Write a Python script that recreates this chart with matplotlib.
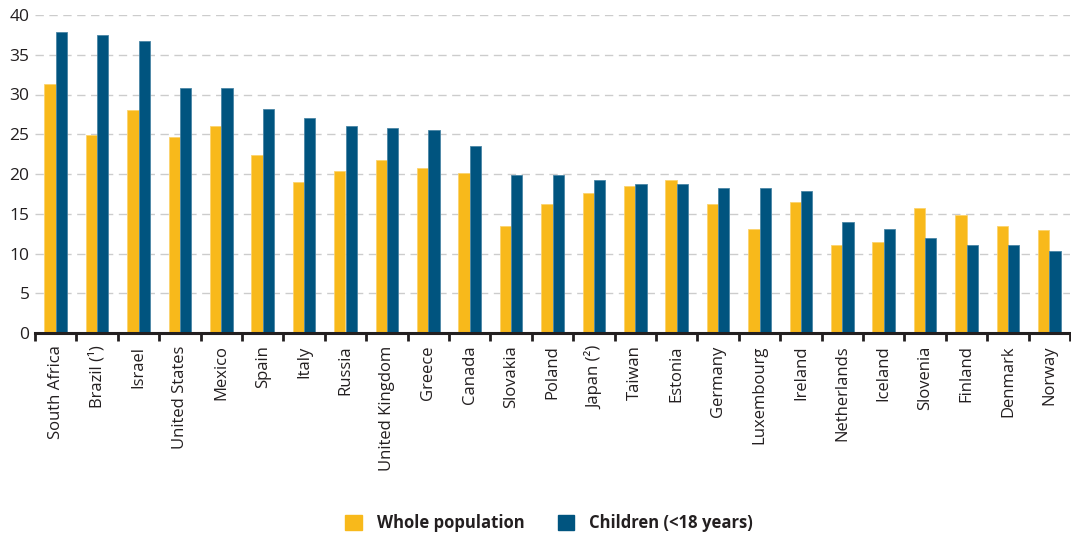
import matplotlib
matplotlib.use("Agg")
import matplotlib.pyplot as plt
import numpy as np
from matplotlib.patches import Patch

countries = ["South Africa", "Brazil (¹)", "Israel", "United States", "Mexico", "Spain",
             "Italy", "Russia", "United Kingdom", "Greece", "Canada", "Slovakia", "Poland",
             "Japan (²)", "Taiwan", "Estonia", "Germany", "Luxembourg", "Ireland",
             "Netherlands", "Iceland", "Slovenia", "Finland", "Denmark", "Norway"]
whole_population = [31.3, 24.9, 28.0, 24.6, 26.0, 22.4, 19.0, 20.4, 21.8, 20.7, 20.1, 13.4,
                    16.2, 17.6, 18.5, 19.3, 16.2, 13.1, 16.5, 11.1, 11.4, 15.7, 14.8, 13.4, 12.9]
children = [37.8, 37.5, 36.7, 30.8, 30.8, 28.2, 27.1, 26.0, 25.8, 25.5, 23.5, 19.9,
            19.9, 19.3, 18.8, 18.8, 18.2, 18.2, 17.9, 14.0, 13.1, 12.0, 11.1, 11.1, 10.3]
y_ticks = [0, 5, 10, 15, 20, 25, 30, 35, 40]

yellow = "#F8B91B"
blue = "#00547F"
txt = "#231F20"

plt.rcParams['font.family'] = ['Open Sans', 'DejaVu Sans']

fig = plt.figure(figsize=(10.71, 5.35), dpi=100)
ax = fig.add_axes([35/1071, 1 - 333/535, (1070-35)/1071, (333-15)/535])

x = np.arange(len(countries))
w = 0.275
ax.bar(x - w/2, whole_population, width=w, color=yellow, edgecolor="#FBD36E", linewidth=0.6, zorder=3)
ax.bar(x + w/2, children, width=w, color=blue, edgecolor="#4A86A6", linewidth=0.6, zorder=3)

ax.set_xlim(-0.5, len(countries) - 0.5)
ax.set_ylim(0, 40)
ax.set_yticks(y_ticks)
ax.set_yticklabels([str(t) for t in y_ticks], fontsize=12.5, color=txt)
ax.tick_params(axis='y', length=0, pad=4)
for t in y_ticks[1:]:
    ax.axhline(t, color="#CCCCCC", linestyle=(0, (6, 4)), linewidth=1.0, zorder=1)

# category labels at centres, tick marks at boundaries
ax.set_xticks(x)
ax.set_xticklabels(countries, rotation=90, fontsize=12, color=txt)
ax.tick_params(axis='x', which='major', length=0, pad=9)
ax.set_xticks(np.arange(-0.5, len(countries) - 0.5 + 0.01, 1.0), minor=True)
ax.tick_params(axis='x', which='minor', length=6, width=2, color="#231F20", direction='out')

for s in ["top", "right", "left"]:
    ax.spines[s].set_visible(False)
ax.spines["bottom"].set_linewidth(2.2)
ax.spines["bottom"].set_color("#231F20")
ax.spines["bottom"].set_zorder(5)

handles = [Patch(facecolor=yellow, edgecolor=yellow), Patch(facecolor=blue, edgecolor=blue)]
leg = fig.legend(handles, ["Whole population", "Children (<18 years)"],
                 loc="center", bbox_to_anchor=(549/1071, 1 - 523/535), ncol=2, frameon=False,
                 prop={'weight': 'bold', 'size': 12}, handlelength=1.0, handleheight=1.0,
                 columnspacing=2.0, handletextpad=0.9)
for t in leg.get_texts():
    t.set_color(txt)

fig.savefig("out.png", dpi=100)
